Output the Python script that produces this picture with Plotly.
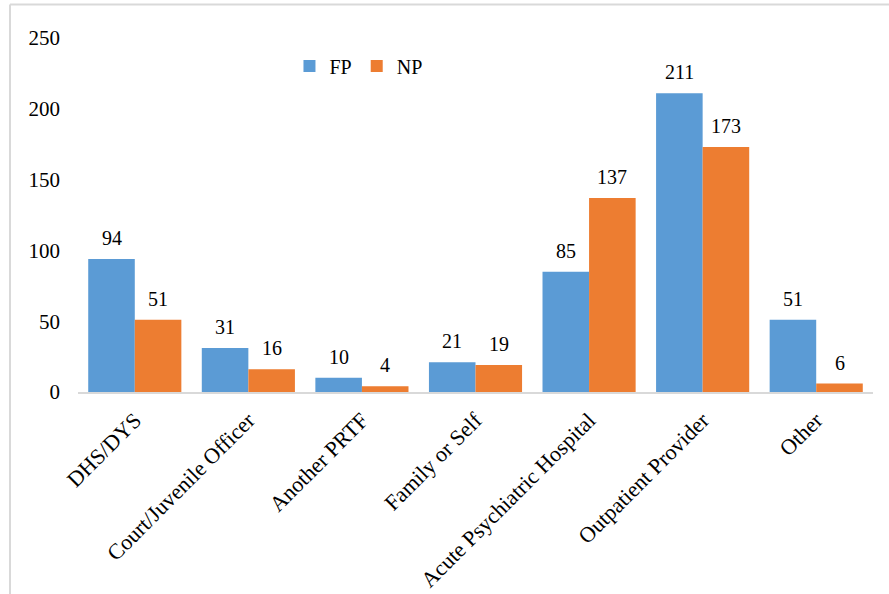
import plotly.graph_objects as go

# Referral source counts for the two groups
categories = ["DHS/DYS", "Court/Juvenile Officer", "Another PRTF", "Family or Self",
              "Acute Psychiatric Hospital", "Outpatient Provider", "Other"]
fp_values = [94, 31, 10, 21, 85, 211, 51]
np_values = [51, 16, 4, 19, 137, 173, 6]
y_ticks = [0, 50, 100, 150, 200, 250]

FP_COLOR = "#5B9BD5"
NP_COLOR = "#ED7D31"
FONT = "Liberation Serif"
TEXT_SIZE = 20
TICK_SIZE = 21
CAT_SIZE = 22
BARGAP = 0.18

W, H = 889, 594
ML, MR, MT, MB = 78, 16, 38, 202

fig = go.Figure()
fig.add_trace(go.Bar(x=categories, y=fp_values, name="FP",
                     marker=dict(color=FP_COLOR, line=dict(width=0))))
fig.add_trace(go.Bar(x=categories, y=np_values, name="NP",
                     marker=dict(color=NP_COLOR, line=dict(width=0))))

# value labels centred over each bar of the grouped pair
half = (1 - BARGAP) / 4
for i in range(len(categories)):
    for vals, off in ((fp_values, -half), (np_values, half)):
        fig.add_annotation(x=i + off, y=vals[i], text=str(vals[i]),
                           showarrow=False, yanchor="bottom", yshift=8,
                           font=dict(family=FONT, size=TEXT_SIZE, color="#000000"))

# light frame on the top and left edges
pw = W - ML - MR
ph = H - MT - MB
fx = (10 - ML) / pw
fy_top = 1 + (MT - 4.5) / ph
fy_bot = -(MB + 5) / ph
fig.add_shape(type="line", xref="paper", yref="paper", x0=fx, x1=1 + (MR + 5) / pw,
              y0=fy_top, y1=fy_top, line=dict(color="#d9d9d9", width=2))
fig.add_shape(type="line", xref="paper", yref="paper", x0=fx, x1=fx,
              y0=fy_top, y1=fy_bot, line=dict(color="#d9d9d9", width=2))

fig.update_layout(
    width=W, height=H,
    margin=dict(l=ML, r=MR, t=MT, b=MB, autoexpand=False),
    paper_bgcolor="white", plot_bgcolor="white",
    barmode="group", bargap=BARGAP, bargroupgap=0,
    font=dict(family=FONT, size=TEXT_SIZE, color="#000000"),
    showlegend=True,
    legend=dict(orientation="h", x=0.266, y=0.921, xanchor="left", yanchor="middle",
                font=dict(family=FONT, size=TEXT_SIZE, color="#000000"),
                itemwidth=30, bgcolor="rgba(0,0,0,0)"),
    xaxis=dict(showline=True, linecolor="#d9d9d9", linewidth=1.5, ticks="",
               tickangle=-45, showgrid=False, ticklabelstandoff=5, automargin=False,
               tickfont=dict(family=FONT, size=CAT_SIZE, color="#000000")),
    yaxis=dict(range=[0, 250], tickvals=y_ticks, showgrid=False, showline=False,
               zeroline=False, ticks="", ticklabelstandoff=17, automargin=False,
               tickfont=dict(family=FONT, size=TICK_SIZE, color="#000000")),
)

fig.write_html("out.html")
